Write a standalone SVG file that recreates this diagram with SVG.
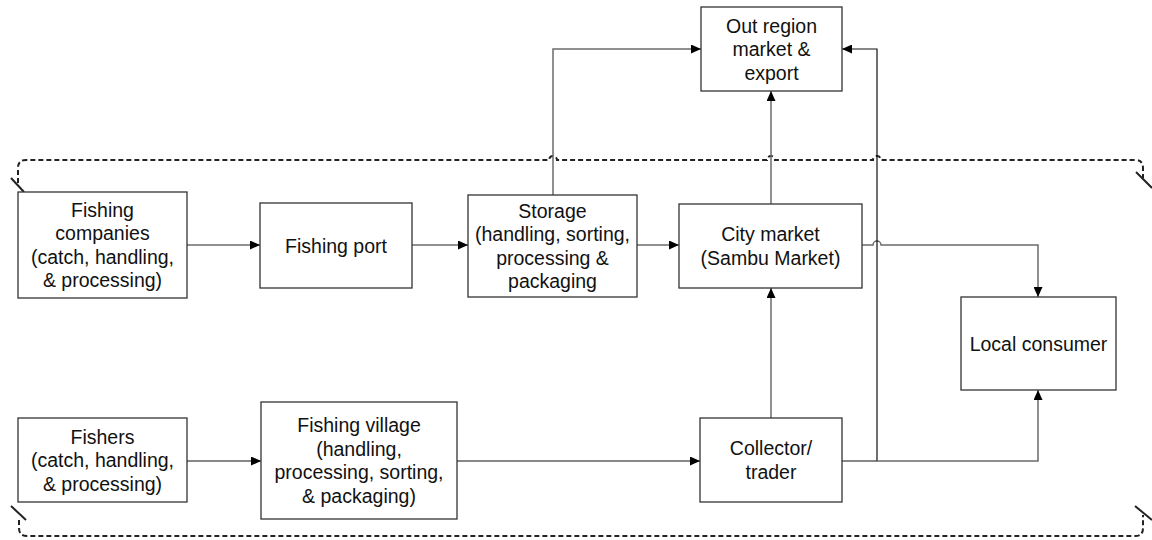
<svg xmlns="http://www.w3.org/2000/svg" width="1152" height="540" viewBox="0 0 1152 540">
<style>
.box{fill:#fff;stroke:#333;stroke-width:1.3}
.t{font-family:"Liberation Sans",Arial,sans-serif;font-size:19.5px;fill:#111;text-anchor:middle}
.c{fill:none;stroke:#6b6b6b;stroke-width:1.5}
.k{fill:none;stroke:#111;stroke-width:1.2}
.b{fill:none;stroke:#222;stroke-width:2;stroke-dasharray:5 3}
.tick{stroke:#222;stroke-width:2}
</style>
<defs>
<marker id="a" markerUnits="userSpaceOnUse" markerWidth="11" markerHeight="9" refX="10" refY="4.5" orient="auto">
<path d="M0,0 L10,4.5 L0,9 z" fill="#000"/>
</marker>
</defs>
<g id="boundary">
<path class="b" d="M18 183 V168 Q18 160 26 160 H549 a4 4 0 0 1 8 0 H767 a4 4 0 0 1 8 0 H873 a4 4 0 0 1 8 0 H1135 Q1143 160 1143 168 V178"/>
<path class="b" d="M19 520 V528 Q19 536 27 536 H1135 Q1143 536 1143 528 V515"/>
<line class="tick" x1="11" y1="178" x2="24" y2="192"/>
<line class="tick" x1="1136" y1="172" x2="1152" y2="188"/>
<line class="tick" x1="11" y1="506" x2="26" y2="520"/>
<line class="tick" x1="1135" y1="506" x2="1152" y2="520"/>
</g>
<g id="connectors">
<path class="c" d="M187 245 H260" marker-end="url(#a)"/>
<path class="c" d="M412 245 H468" marker-end="url(#a)"/>
<path class="c" d="M637 245 H679" marker-end="url(#a)"/>
<path class="c" d="M553 195 V49 H701" marker-end="url(#a)"/>
<path class="c" d="M771 204 V91" marker-end="url(#a)"/>
<path class="c" d="M771 418 V288" marker-end="url(#a)"/>
<path class="c" d="M862 245 H873 a4 4 0 0 1 8 0 H1038 V297" marker-end="url(#a)"/>
<path class="k" d="M842 461 H877 V49 H842" marker-end="url(#a)"/>
<path class="c" d="M877 461 H1038 V390" marker-end="url(#a)"/>
<path class="k" d="M187 461 H261" marker-end="url(#a)"/>
<path class="k" d="M457 461 H700" marker-end="url(#a)"/>
</g>
<g id="fishing-companies">
<rect class="box" x="18" y="192" width="169" height="106"/>
<text class="t" x="102.5" y="216.75">Fishing</text>
<text class="t" x="102.5" y="240.25">companies</text>
<text class="t" x="102.5" y="263.75">(catch, handling,</text>
<text class="t" x="102.5" y="287.25">&amp; processing)</text>
</g>
<g id="fishing-port">
<rect class="box" x="260" y="203" width="152" height="85"/>
<text class="t" x="336" y="252.5">Fishing port</text>
</g>
<g id="storage">
<rect class="box" x="468" y="195" width="169" height="102"/>
<text class="t" x="552.5" y="217.75">Storage</text>
<text class="t" x="552.5" y="241.25">(handling, sorting,</text>
<text class="t" x="552.5" y="264.75">processing &amp;</text>
<text class="t" x="552.5" y="288.25">packaging</text>
</g>
<g id="city-market">
<rect class="box" x="679" y="204" width="183" height="84"/>
<text class="t" x="770.5" y="241.25">City market</text>
<text class="t" x="770.5" y="264.75">(Sambu Market)</text>
</g>
<g id="out-region">
<rect class="box" x="701" y="7" width="141" height="84"/>
<text class="t" x="771.5" y="32.5">Out region</text>
<text class="t" x="771.5" y="56">market &amp;</text>
<text class="t" x="771.5" y="79.5">export</text>
</g>
<g id="local-consumer">
<rect class="box" x="961" y="297" width="155" height="93"/>
<text class="t" x="1038.5" y="350.5">Local consumer</text>
</g>
<g id="collector">
<rect class="box" x="700" y="418" width="142" height="84"/>
<text class="t" x="771" y="455.25">Collector/</text>
<text class="t" x="771" y="478.75">trader</text>
</g>
<g id="fishers">
<rect class="box" x="18" y="418" width="169" height="84"/>
<text class="t" x="102.5" y="443.5">Fishers</text>
<text class="t" x="102.5" y="467">(catch, handling,</text>
<text class="t" x="102.5" y="490.5">&amp; processing)</text>
</g>
<g id="fishing-village">
<rect class="box" x="261" y="402" width="196" height="117"/>
<text class="t" x="359" y="432.25">Fishing village</text>
<text class="t" x="359" y="455.75">(handling,</text>
<text class="t" x="359" y="479.25">processing, sorting,</text>
<text class="t" x="359" y="502.75">&amp; packaging)</text>
</g>
</svg>
